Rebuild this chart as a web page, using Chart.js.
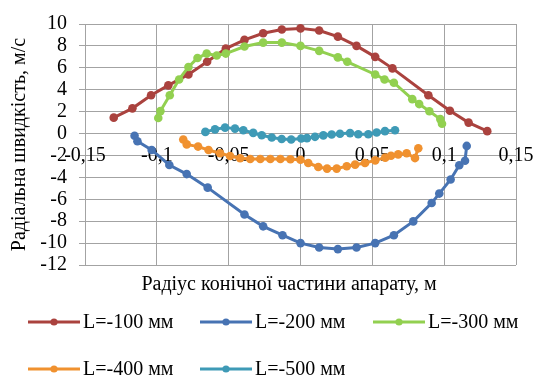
<!DOCTYPE html>
<html>
<head>
<meta charset="utf-8">
<script src="https://cdn.jsdelivr.net/npm/chart.js@4/dist/chart.umd.min.js"></script>
<style>
  html, body { margin: 0; padding: 0; background: #fff; }
</style>
</head>
<body>
<canvas id="chrVelocity" width="542" height="379"></canvas>
<script>
// radius, m  /  radial velocity, m/s
const l100X = [-0.130,-0.117,-0.104,-0.092,-0.078,-0.065,-0.052,-0.039,-0.026,-0.013,0,0.013,0.026,0.039,0.052,0.064,0.089,0.104,0.117,0.130];
const l100Y = [1.45,2.3,3.5,4.4,5.4,6.55,7.75,8.55,9.15,9.5,9.6,9.4,8.85,8.0,7.0,5.95,3.5,2.08,1.0,0.22];

const l200X = [-0.1155,-0.1135,-0.1036,-0.0913,-0.0792,-0.0646,-0.039,-0.026,-0.0125,0,0.013,0.026,0.039,0.052,0.065,0.0785,0.0913,0.0966,0.1045,0.1105,0.1145,0.1157];
const l200Y = [-0.2,-0.7,-1.5,-2.87,-3.7,-4.94,-7.39,-8.47,-9.28,-10.0,-10.4,-10.55,-10.4,-10.0,-9.28,-8.02,-6.34,-5.48,-4.19,-2.9,-2.48,-1.13];

const l300X = [-0.099,-0.0975,-0.091,-0.0845,-0.078,-0.0717,-0.0653,-0.0583,-0.052,-0.039,-0.026,-0.013,0,0.013,0.026,0.0326,0.052,0.0585,0.065,0.0778,0.0826,0.0897,0.0973,0.0985];
const l300Y = [1.42,2.05,3.5,4.94,6.08,6.89,7.3,7.13,7.3,7.94,8.3,8.3,8.0,7.55,6.95,6.55,5.39,4.94,4.64,3.14,2.69,2.03,1.32,0.9];

const l400X = [-0.0816,-0.0792,-0.0713,-0.064,-0.056,-0.049,-0.042,-0.035,-0.028,-0.021,-0.014,-0.007,0,0.0054,0.0124,0.0185,0.0252,0.0322,0.038,0.0449,0.052,0.059,0.063,0.068,0.0739,0.0797,0.082];
const l400Y = [-0.55,-0.99,-1.19,-1.5,-1.8,-2.05,-2.25,-2.33,-2.33,-2.33,-2.33,-2.35,-2.39,-2.69,-3.05,-3.2,-3.2,-2.99,-2.84,-2.69,-2.45,-2.2,-2.03,-1.9,-1.8,-2.24,-1.35];

const l500X = [-0.0662,-0.0595,-0.0525,-0.0456,-0.0398,-0.0329,-0.027,-0.02,-0.0131,-0.0065,0.0005,0.0045,0.0101,0.0159,0.0217,0.0275,0.0345,0.0402,0.0472,0.053,0.0588,0.0658];
const l500Y = [0.15,0.38,0.54,0.45,0.3,0.06,-0.15,-0.36,-0.5,-0.55,-0.45,-0.42,-0.3,-0.17,-0.09,-0.02,0.04,-0.06,-0.06,0.09,0.22,0.3];

const seriesNames = ['L=-100 мм', 'L=-200 мм', 'L=-300 мм', 'L=-400 мм', 'L=-500 мм'];
const seriesColors = ['#aa423e', '#4773b3', '#92d050', '#f0912f', '#3e9ab6'];

const xTickValues = [-0.15, -0.1, -0.05, 0, 0.05, 0.1, 0.15];
const xTickLabels = ['-0,15', '-0,1', '-0,05', '0', '0,05', '0,1', '0,15'];
const yTickValues = [-12, -10, -8, -6, -4, -2, 0, 2, 4, 6, 8, 10];
const yTickLabels = ['-12', '-10', '-8', '-6', '-4', '-2', '0', '2', '4', '6', '8', '10'];

const xTitle = 'Радіус конічної частини апарату, м';
const yTitle = 'Радіальна швидкість, м/с';

const FONT = '"Liberation Serif", "Times New Roman", serif';
const GRID = '#a3a3a3';

const toPoints = (xs, ys) => xs.map((x, i) => ({ x: x, y: ys[i] }));
const seriesX = [l100X, l200X, l300X, l400X, l500X];
const seriesY = [l100Y, l200Y, l300Y, l400Y, l500Y];

const datasets = seriesNames.map((name, i) => ({
  label: name,
  data: toPoints(seriesX[i], seriesY[i]),
  showLine: true,
  borderColor: seriesColors[i],
  backgroundColor: seriesColors[i],
  pointBackgroundColor: seriesColors[i],
  pointBorderWidth: 0,
  pointRadius: 4.3,
  borderWidth: 3,
  order: seriesNames.length - i   // later series drawn on top, like Excel
}));

// legend + x title drawn under the plot, Excel style
const excelLegend = {
  id: 'excelLegend',
  afterDraw: (chart) => {
    const ctx = chart.ctx;
    const area = chart.chartArea;
    ctx.save();
    ctx.fillStyle = '#000';
    ctx.font = '20px ' + FONT;
    ctx.textAlign = 'center';
    ctx.textBaseline = 'middle';
    ctx.fillText(xTitle, 289, area.bottom + 20);

    const slots = [[28, 322], [200, 322], [373, 322], [28, 369], [200, 369]];
    chart.data.datasets.forEach((ds, i) => {
      const x = slots[i][0], y = slots[i][1];
      ctx.strokeStyle = ds.borderColor;
      ctx.lineWidth = 3;
      ctx.beginPath();
      ctx.moveTo(x, y);
      ctx.lineTo(x + 52, y);
      ctx.stroke();
      ctx.fillStyle = ds.borderColor;
      ctx.beginPath();
      ctx.arc(x + 26, y, 3.6, 0, Math.PI * 2);
      ctx.fill();
      ctx.fillStyle = '#000';
      ctx.textAlign = 'left';
      ctx.fillText(ds.label, x + 55, y + 1);
    });
    ctx.restore();
  }
};

new Chart(document.getElementById('chrVelocity').getContext('2d'), {
  type: 'scatter',
  data: { datasets: datasets },
  plugins: [excelLegend],
  options: {
    responsive: false,
    animation: false,
    layout: { padding: { left: 0, right: 26, top: 20, bottom: 114 } },
    plugins: {
      legend: { display: false },
      tooltip: { enabled: false }
    },
    scales: {
      x: {
        type: 'linear',
        position: { y: 0 },
        min: -0.15,
        max: 0.15,
        afterBuildTicks: (scale) => { scale.ticks = xTickValues.map(v => ({ value: v })); },
        ticks: {
          callback: (v, i) => xTickLabels[i],
          color: '#000',
          font: { family: FONT, size: 20 },
          padding: 4,
          maxRotation: 0,
          autoSkip: false
        },
        grid: { color: GRID, tickLength: 6, tickColor: GRID },
        border: { color: GRID }
      },
      y: {
        position: 'left',
        min: -12,
        max: 10,
        afterBuildTicks: (scale) => { scale.ticks = yTickValues.map(v => ({ value: v })); },
        afterFit: (scale) => { scale.width = 85; },
        ticks: {
          callback: (v, i) => yTickLabels[i],
          color: '#000',
          font: { family: FONT, size: 20 },
          padding: 12,
          autoSkip: false
        },
        grid: { color: GRID, tickLength: 6, tickColor: GRID },
        border: { color: GRID },
        title: {
          display: true,
          text: yTitle,
          color: '#000',
          font: { family: FONT, size: 20 },
          padding: { top: 8, bottom: 0 }
        }
      }
    }
  }
});
</script>
</body>
</html>
